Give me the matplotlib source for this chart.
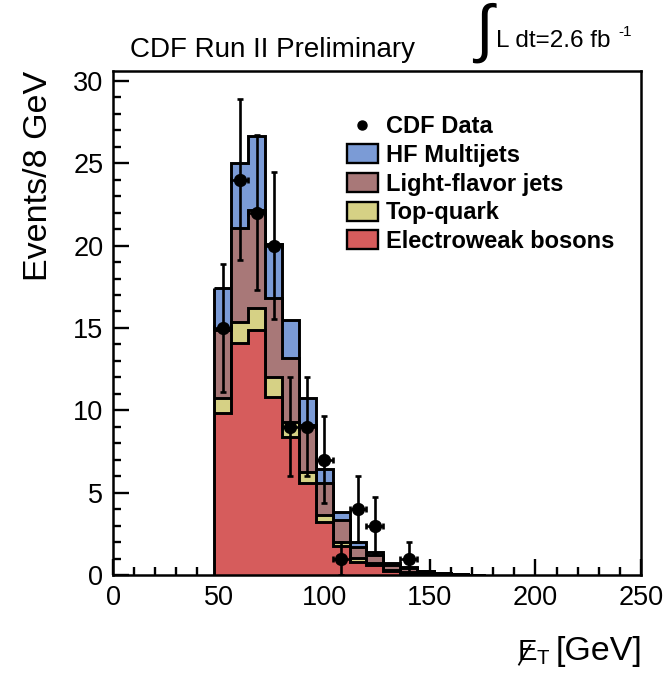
import matplotlib
matplotlib.use('Agg')
import matplotlib.pyplot as plt
import numpy as np
from matplotlib.patches import Patch
from matplotlib.lines import Line2D

plt.rcParams['font.family'] = ['Liberation Sans', 'DejaVu Sans']
plt.rcParams['mathtext.fontset'] = 'custom'
plt.rcParams['mathtext.rm'] = 'Liberation Sans'
plt.rcParams['mathtext.it'] = 'Liberation Sans'

# 8 GeV bins of missing ET
edges = np.arange(48, 184, 8)

# expected events per bin, one list per process
ewk = [9.82, 14.07, 14.88, 10.79, 8.40, 5.57, 3.24, 1.76, 0.81, 0.61, 0.22, 0.15, 0.08, 0.05, 0.03, 0.02]
top = [0.91, 1.31, 1.31, 1.21, 0.91, 0.70, 0.40, 0.23, 0.20, 0.14, 0.08, 0.05, 0.04, 0.02, 0.01, 0.00]
lf = [4.17, 5.67, 5.97, 4.80, 3.85, 2.83, 1.93, 1.35, 0.71, 0.46, 0.30, 0.25, 0.10, 0.05, 0.04, 0.01]
hf = [2.50, 3.95, 4.51, 3.30, 2.32, 1.63, 0.85, 0.50, 0.30, 0.20, 0.10, 0.05, 0.04, 0.02, 0.01, 0.00]

# observed data
data_x = [52, 60, 68, 76, 84, 92, 100, 108, 116, 124, 140]
data_n = [15, 24, 22, 20, 9, 9, 7, 1, 4, 3, 1]

names = ['HF Multijets', 'Light-flavor jets', 'Top-quark', 'Electroweak bosons']
colors = ['#7b9bd6', '#a87878', '#d6d185', '#d65c5c']

fig = plt.figure(figsize=(6.64, 6.73), dpi=100)
ax = fig.add_axes([0.1702, 0.1456, 0.7952, 0.7489])

# stack from the bottom up, then draw the tallest first
layers = [ewk, top, lf, hf]
cum = np.cumsum(np.array(layers), axis=0)
for i in range(3, -1, -1):
    ax.stairs(cum[i], edges, baseline=0, fill=True, facecolor=colors[3 - i],
              edgecolor='none', zorder=2 + (3 - i) * 0.1)
    ax.stairs(cum[i], edges, baseline=None, color='k', lw=2.1,
              zorder=2.05 + (3 - i) * 0.1)
ax.vlines(edges[0], 0, cum[3][0], color='k', lw=2.1, zorder=3)

err = np.sqrt(np.array(data_n, dtype=float))
ax.errorbar(data_x, data_n, yerr=err, xerr=4, fmt='o', color='k', ms=8.5,
            elinewidth=1.9, capsize=2.4, capthick=1.9, zorder=5)

ax.set_xlim(0, 250)
ax.set_ylim(0, 30.6)
ax.set_xticks(np.arange(0, 251, 50))
ax.set_xticks(np.arange(0, 251, 10), minor=True)
ax.set_yticks(np.arange(0, 31, 5))
ax.set_yticks(np.arange(0, 31, 1), minor=True)
ax.tick_params(which='both', direction='in', top=False, right=False,
               labelsize=19.5, width=1.7)
ax.tick_params(which='major', length=11.5, pad=7)
ax.tick_params(which='minor', length=6)
for s in ax.spines.values():
    s.set_linewidth(1.8)

ax.set_ylabel('Events/8 GeV', fontsize=24.5, loc='top', labelpad=14)

# legend
handles = [Line2D([], [], marker='o', ls='none', color='k', ms=6.5)]
for n, c in zip(names, colors):
    handles.append(Patch(facecolor=c, edgecolor='k', lw=1.7))
labels = ['CDF Data'] + names
ax.legend(handles, labels, loc='upper left', bbox_to_anchor=(0.443, 0.912),
          frameon=False, prop={'weight': 'bold', 'size': 17},
          handlelength=1.3, handleheight=0.85, handletextpad=0.35,
          labelspacing=0.24, borderpad=0, borderaxespad=0)

fig.text(0.196, 0.916, 'CDF Run II Preliminary', fontsize=20, ha='left', va='baseline')
fig.text(0.716, 0.926, '\u222b', fontsize=46, ha='left', va='baseline')
fig.text(0.747, 0.930, 'L dt=2.6 fb', fontsize=17.5, ha='left', va='baseline')
fig.text(0.932, 0.946, '-1', fontsize=11, ha='left', va='baseline')

# missing ET axis title, E with a slash through it
fig.text(0.778, 0.019, r'$E_{\rm T}$', fontsize=21, ha='left', va='baseline')
fig.text(0.967, 0.019, '[GeV]', fontsize=24.5, ha='right', va='baseline')
fig.add_artist(Line2D([0.7816, 0.7985], [0.0125, 0.0415], color='k', lw=1.3,
                      transform=fig.transFigure))

fig.savefig('out.png', dpi=100)
